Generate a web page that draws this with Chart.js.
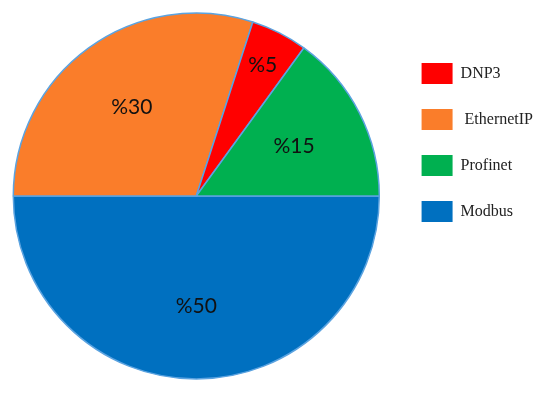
<!DOCTYPE html>
<html>
<head>
<meta charset="utf-8">
<script src="https://cdn.jsdelivr.net/npm/chart.js@4"></script>
<style>
  body { margin: 0; background: #fff; overflow: hidden; }
  #wrap { width: 556px; height: 394px; position: relative; margin-left: -4px; }
</style>
</head>
<body>
<div id="wrap"><canvas id="myChart"></canvas></div>
<script>
'use strict'
// slices go clockwise starting at 3 o'clock
let protocols = ['Modbus', ' EthernetIP', 'DNP3', 'Profinet'];
let shares = [50, 30, 5, 15];
let sliceColors = ['#0070C0', '#FA7D2A', '#FF0000', '#00B050'];
let legendOrder = ['DNP3', ' EthernetIP', 'Profinet', 'Modbus'];

// draws the %value text inside every slice
const percentLabels = {
  id: 'percentLabels',
  afterDatasetsDraw(chart) {
    let ctx = chart.ctx;
    let meta = chart.getDatasetMeta(0);
    ctx.save();
    ctx.font = '21px Lato';
    ctx.fillStyle = '#111';
    ctx.textAlign = 'center';
    ctx.textBaseline = 'middle';
    meta.data.forEach(function (arc, i) {
      let p = arc.getProps(['x', 'y', 'startAngle', 'endAngle', 'outerRadius'], true);
      let mid = (p.startAngle + p.endAngle) / 2;
      let k = shares[i] < 10 ? 0.8 : 0.6;
      let x = p.x + Math.cos(mid) * p.outerRadius * k;
      let y = p.y + Math.sin(mid) * p.outerRadius * k;
      ctx.fillText('%' + shares[i], x, y);
    });
    ctx.restore();
  }
};

const data = {
  labels: protocols,
  datasets: [{
    data: shares,
    backgroundColor: sliceColors,
    borderColor: '#5BA3E0',
    borderWidth: 1.5
  }]
};

const config = {
  type: 'pie',
  data: data,
  options: {
    responsive: true,
    maintainAspectRatio: false,
    animation: false,
    rotation: 90,
    radius: 183,
    layout: { padding: { left: 0, top: 13, bottom: 15, right: 9 } },
    plugins: {
      tooltip: { enabled: false },
      legend: {
        position: 'right',
        align: 'start',
        title: { display: true, text: ' ', font: { size: 10 }, padding: { top: 0, bottom: 13 } },
        labels: {
          boxWidth: 31,
          boxHeight: 21,
          padding: 25,
          color: '#222',
          font: { family: 'Liberation Serif', size: 16 },
          generateLabels: function (chart) {
            let items = Chart.overrides.pie.plugins.legend.labels.generateLabels(chart);
            items.forEach(function (it) { it.lineWidth = 0; it.strokeStyle = 'rgba(0,0,0,0)'; });
            return items;
          },
          sort: function (a, b) {
            return legendOrder.indexOf(a.text) - legendOrder.indexOf(b.text);
          }
        }
      }
    }
  },
  plugins: [percentLabels]
};

var myChart = new Chart(document.getElementById('myChart'), config);
</script>
</body>
</html>
